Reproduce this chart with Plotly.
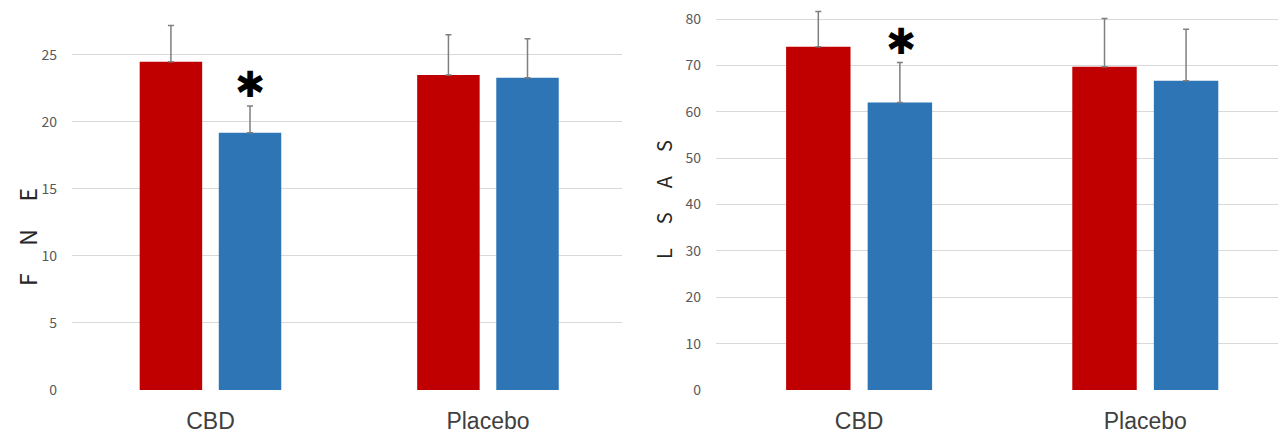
import plotly.graph_objects as go

W, H = 1278, 434

categories = ["CBD", "Placebo"]

# Left panel: FNE
fne_pre = [24.5, 23.5]
fne_pre_err = [2.7, 3.0]
fne_post = [19.2, 23.3]
fne_post_err = [2.0, 2.9]

# Right panel: LSAS
lsas_pre = [74.0, 69.7]
lsas_pre_err = [7.6, 10.4]
lsas_post = [62.0, 66.7]
lsas_post_err = [8.6, 11.1]

RED = "#C00000"
BLUE = "#2E75B6"
ERR = "#7F7F7F"
FONT = "Noto Sans CJK JP"


def px_x(p):
    return p / W


def px_y(p):
    return (H - p) / H


fig = go.Figure()


def add_bars(xa, ya, vals, errs, color):
    fig.add_trace(go.Bar(
        x=categories, y=vals, xaxis=xa, yaxis=ya,
        marker=dict(color=color, line=dict(width=0)),
        error_y=dict(type="data", array=errs, arrayminus=[0] * len(errs),
                     symmetric=False, color=ERR, thickness=1.5, width=3),
        showlegend=False,
    ))


add_bars("x", "y", fne_pre, fne_pre_err, RED)
add_bars("x", "y", fne_post, fne_post_err, BLUE)
add_bars("x2", "y2", lsas_pre, lsas_pre_err, RED)
add_bars("x2", "y2", lsas_post, lsas_post_err, BLUE)

ydom = [px_y(390), 1.0]

xcommon = dict(type="category", showgrid=False, zeroline=False, showline=False,
               ticks="", tickfont=dict(family="Liberation Sans, Arial", size=23, color="#404040"),
               ticklabelstandoff=15, automargin=False)
ycommon = dict(showgrid=True, gridcolor="#D9D9D9", gridwidth=1, zeroline=False,
               showline=False, ticks="", tickfont=dict(family=FONT, size=14, color="#595959"),
               ticklabelstandoff=14, automargin=False)

fig.update_layout(
    width=W, height=H,
    margin=dict(l=0, r=0, t=0, b=0),
    paper_bgcolor="white", plot_bgcolor="white",
    barmode="group", bargap=0.43, bargroupgap=0.21,
    xaxis=dict(domain=[px_x(72), px_x(622)], range=[-0.499, 1.483], anchor="y", **xcommon),
    yaxis=dict(domain=ydom, range=[0, 29.1], dtick=5, anchor="x", **ycommon),
    xaxis2=dict(domain=[px_x(716), 1.0], range=[-0.5, 1.4637], anchor="y2", **xcommon),
    yaxis2=dict(domain=ydom, range=[0, 84.1], dtick=10, anchor="x2", **ycommon),
)

# Y-axis titles
fig.add_annotation(text="F\u3000\u2009N\u3000\u2009E", xref="paper", yref="paper",
                   x=px_x(27), y=px_y(237), textangle=-90, showarrow=False,
                   font=dict(family=FONT, size=23, color="#262626"),
                   xanchor="center", yanchor="middle")
fig.add_annotation(text="L\u3000\u2009S\u3000\u2009A\u3000\u2009S", xref="paper", yref="paper",
                   x=px_x(664), y=px_y(199), textangle=-90, showarrow=False,
                   font=dict(family=FONT, size=20, color="#262626"),
                   xanchor="center", yanchor="middle")

# Significance asterisks
fig.add_annotation(text="\u2731", xref="x", yref="y", x="CBD", xshift=40,
                   y=22.8, showarrow=False,
                   font=dict(family="DejaVu Sans", size=36, color="black"),
                   xanchor="center", yanchor="middle")
fig.add_annotation(text="\u2731", xref="x2", yref="y2", x="CBD", xshift=42,
                   y=75.1, showarrow=False,
                   font=dict(family="DejaVu Sans", size=36, color="black"),
                   xanchor="center", yanchor="middle")

fig.write_html("out.html", config={"displayModeBar": False},
               post_script="document.body.style.margin='0';document.body.style.padding='0';document.body.style.overflow='hidden';")
